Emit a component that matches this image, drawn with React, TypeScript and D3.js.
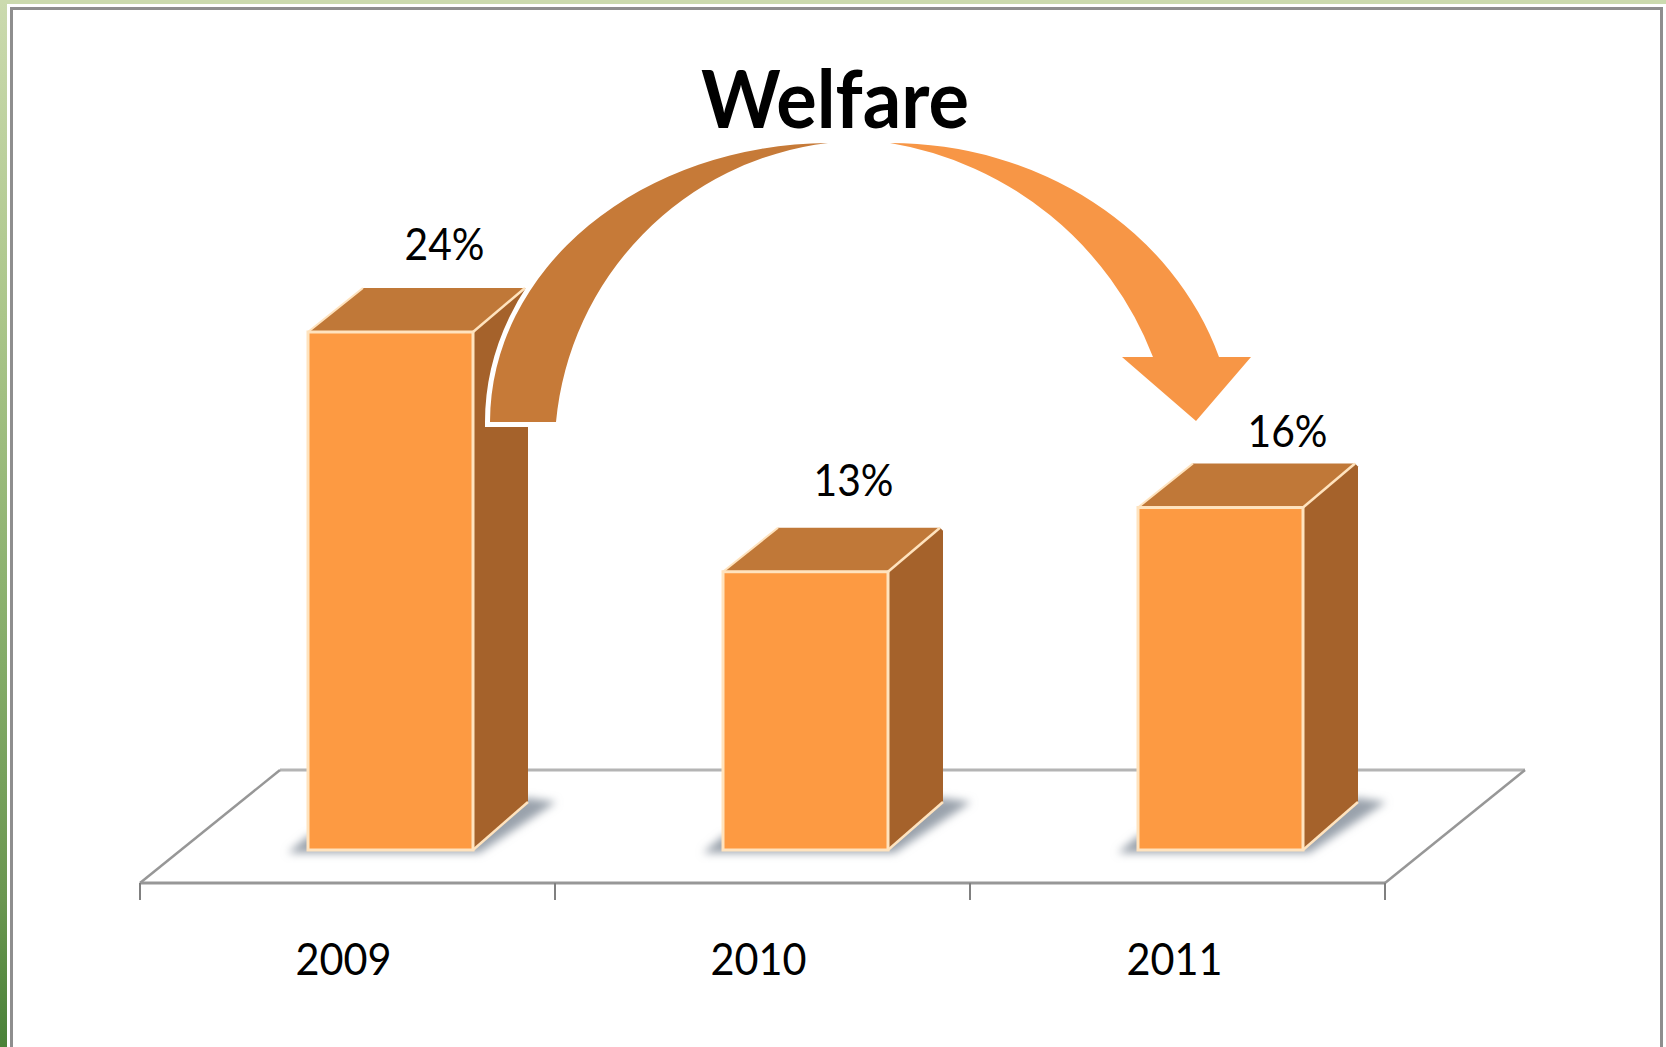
import React from "react";
import * as d3 from "d3";

const categories = ["2009", "2010", "2011"];
const values = [24.2, 13, 16];
const valueLabels = ["24%", "13%", "16%"];
const title = "Welfare";

const W = 1666, H = 1047;
const floorFront = { x0: 140, x1: 1385, y: 883 };
const floorBack = { x0: 280, x1: 1525, y: 770 };
const baseY = 850;
const barW = 165;
const barInset = 168;
const dx = 55, dyTop = 44, dyBase = 48;
const labelDX = [54, 48, 67];
const labelDY = [72, 76, 61];
const tickDX = [-4, -4, -3];

// Annotation arrows, fitted to the picture (not data)
const leftArrow = "M490,422 A340,279 0 0 1 828,143 A310,310 0 0 0 556,422 Z";
const rightArrow = "M890,143 A346,310 0 0 1 1219,357 L1251,357 L1196,421 L1122,357 L1153,357 A342,342 0 0 0 890,143 Z";

const x = d3.scaleBand<string>().domain(categories).range([floorFront.x0, floorFront.x1]).padding(0);
const y = d3.scaleLinear().domain([0, 24.2]).range([baseY, 332]);

const FONT = "Lato, 'Open Sans', sans-serif";
const frontFill = "#FD9A42";
const topFill = "#C07838";
const sideFill = "#A5622B";
const edge = "#FFE3BE";

export default function App() {
  const line = d3.line();
  return (
    <svg width={W} height={H} viewBox={`0 0 ${W} ${H}`} style={{ position: "fixed", left: 0, top: 0, background: "#fff" }}>
      <defs>
        <linearGradient id="strip" x1="0" y1="0" x2="0" y2="1">
          <stop offset="0" stopColor="#CBDAAE" />
          <stop offset="0.3" stopColor="#ABC68A" />
          <stop offset="0.63" stopColor="#84AC68" />
          <stop offset="0.86" stopColor="#6A9650" />
          <stop offset="1" stopColor="#4A8238" />
        </linearGradient>
        <filter id="blur" x="-30%" y="-30%" width="160%" height="160%">
          <feGaussianBlur stdDeviation="4" />
        </filter>
      </defs>
      <rect x={0} y={0} width={7} height={H} fill="url(#strip)" />
      <rect x={0} y={0} width={W} height={4} fill="#CBDAAE" />
      <rect x={10} y={7} width={3} height={H - 7} fill="#8E8E8E" />
      <rect x={10} y={7} width={1653} height={3} fill="#8E8E8E" />
      <rect x={1660} y={7} width={3} height={H - 7} fill="#8E8E8E" />

      {/* floor */}
      <path d={`M${floorBack.x0},${floorBack.y}H${floorBack.x1}`} stroke="#B4B4B4" strokeWidth={3} fill="none" />
      <path d={`M${floorFront.x0},${floorFront.y}L${floorBack.x0},${floorBack.y}`} stroke="#979797" strokeWidth={2.5} fill="none" />
      <path d={`M${floorFront.x1},${floorFront.y}L${floorBack.x1},${floorBack.y}`} stroke="#979797" strokeWidth={2.5} fill="none" />
      <path d={`M${floorFront.x0},${floorFront.y}H${floorFront.x1}`} stroke="#979797" strokeWidth={3} fill="none" />
      {[...categories.map((c) => x(c) as number), floorFront.x1].map((t, i) => (
        <line key={i} x1={t} x2={t} y1={floorFront.y} y2={900} stroke="#808080" strokeWidth={2} />
      ))}

      {categories.map((c, i) => {
        const l = (x(c) as number) + barInset;
        const r = l + barW;
        const t = y(values[i]);
        return (
          <g key={c}>
            <path
              d={line([[l - 20, baseY + 3], [r + 6, baseY + 3], [r + dx + 28, baseY - dyBase + 0], [r + dx, baseY - dyBase - 4], [l, baseY - 14]]) + "Z"}
              fill="#9AA2AC"
              filter="url(#blur)"
            />
            <path d={line([[l, t], [l + dx, t - dyTop], [r + dx - 3, t - dyTop], [r, t]]) + "Z"} fill={topFill} />
            <path d={line([[r, t], [r + dx - 3, t - dyTop], [r + dx, t - dyTop + 3], [r + dx, baseY - dyBase], [r, baseY]]) + "Z"} fill={sideFill} />
            <path d={line([[l, t], [l + dx, t - dyTop]])} stroke={edge} strokeWidth={2} fill="none" />
            <path d={line([[r, t], [r + dx - 3, t - dyTop]])} stroke={edge} strokeWidth={2.5} fill="none" />
            <path d={line([[r, baseY], [r + dx, baseY - dyBase]])} stroke={edge} strokeWidth={2.5} fill="none" />
            <rect x={l} y={t} width={barW} height={baseY - t} fill={frontFill} stroke={edge} strokeWidth={3} />
            <text
              x={l + barW / 2 + labelDX[i]}
              y={t - labelDY[i]}
              textAnchor="middle"
              fontFamily={FONT}
              fontSize={44}
              textLength={80}
              lengthAdjust="spacingAndGlyphs"
              fill="#000"
            >
              {valueLabels[i]}
            </text>
            <text
              x={(x(c) as number) + x.bandwidth() / 2 + tickDX[i]}
              y={975}
              textAnchor="middle"
              fontFamily={FONT}
              fontSize={44}
              textLength={96}
              lengthAdjust="spacingAndGlyphs"
              fill="#000"
            >
              {c}
            </text>
          </g>
        );
      })}

      {/* arrows */}
      <path d={leftArrow} fill="#C67A38" stroke="#fff" strokeWidth={10} strokeLinejoin="miter" />
      <path d={leftArrow} fill="#C67A38" />
      <path d={rightArrow} fill="#F79646" />

      <text x={835} y={128} textAnchor="middle" fontFamily={FONT} fontWeight={700} fontSize={80} textLength={268} lengthAdjust="spacingAndGlyphs" fill="#000">
        {title}
      </text>
    </svg>
  );
}
